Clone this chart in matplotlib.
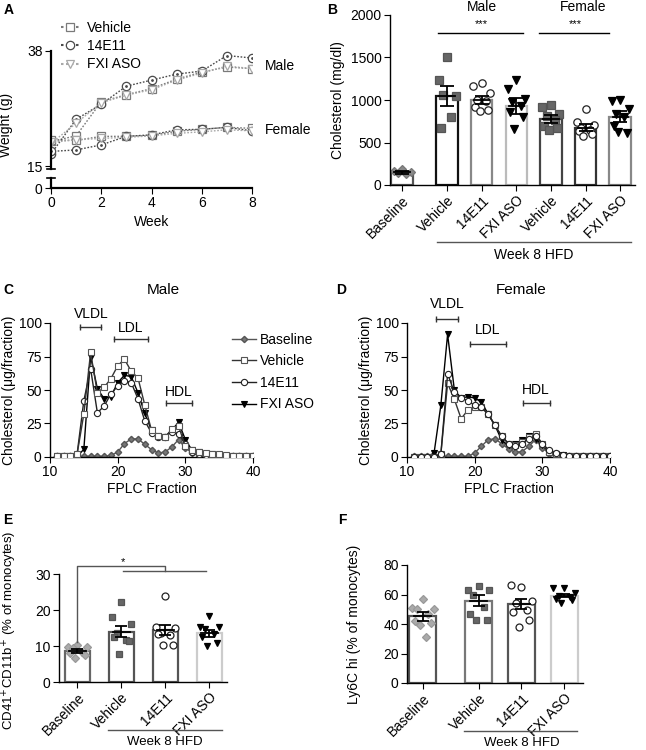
import numpy as np
import matplotlib
matplotlib.use("Agg")
import matplotlib.pyplot as plt
from matplotlib.lines import Line2D

plt.rcParams['font.family'] = ['Liberation Sans', 'DejaVu Sans']
plt.rcParams['font.size'] = 9
plt.rcParams['axes.linewidth'] = 1.0
plt.rcParams['xtick.major.size'] = 4
plt.rcParams['ytick.major.size'] = 4
plt.rcParams['xtick.major.pad'] = 2
plt.rcParams['ytick.major.pad'] = 2

# ---------------- data ----------------
# A: body weight (g)
weeks = np.arange(0, 9)
male_vehicle = [20.0, 21.1, 27.9, 29.3, 30.5, 32.4, 33.8, 34.8, 34.5]
male_14e11 = [17.5, 24.4, 27.4, 31.0, 32.2, 33.4, 34.0, 37.1, 36.6]
male_fxi = [19.6, 23.6, 27.7, 29.2, 30.3, 32.2, 33.6, 35.0, 34.5]
female_vehicle = [20.3, 20.2, 21.0, 21.0, 21.2, 22.0, 22.4, 22.8, 22.6]
female_14e11 = [18.0, 18.3, 19.3, 21.0, 21.3, 22.3, 22.4, 22.8, 22.1]
female_fxi = [19.8, 20.3, 20.6, 20.8, 21.1, 21.6, 21.9, 22.3, 22.1]

# B: plasma cholesterol (mg/dl)
chol_labels = ['Baseline', 'Vehicle', '14E11', 'FXI ASO', 'Vehicle', '14E11', 'FXI ASO']
chol_mean = [150, 1050, 1000, 930, 775, 675, 805]
chol_sem = [15, 120, 50, 95, 50, 38, 60]
chol_points = [
    [185, 165, 150, 140, 130],
    [1500, 1230, 1050, 1060, 800, 670],
    [1200, 1160, 1080, 1000, 990, 920, 880, 870],
    [1230, 1130, 1010, 980, 930, 860, 800, 660],
    [940, 920, 840, 810, 760, 700, 670, 650],
    [890, 740, 710, 670, 650, 630, 600, 580],
    [1000, 990, 900, 840, 800, 690, 610, 620],
]

# C / D: FPLC profiles (ug/fraction), fractions 11..40
fractions = np.arange(11, 41)
male_base = [0.5, 0.5, 0.5, 0.5, 0.5, 0.5, 0.5, 0.5, 1.2, 3.7, 10, 13.5, 13.5, 9.5, 5.5,
             3, 3.7, 7.5, 13, 7, 3, 1.2, 0.5, 0.5, 0.5, 0.5, 0.5, 0.5, 0.5, 0.5]
male_veh = [0.8, 0.8, 0.8, 2, 32, 78, 48, 52, 58.5, 68, 73, 64, 59, 39, 20,
            15.4, 15, 20.6, 23, 8, 5, 4, 3, 2.5, 2, 1.5, 1, 1, 0.8, 0.8]
male_ab = [0.5, 0.5, 0.5, 2, 42, 66, 33, 38, 47, 53, 57, 55.5, 43.5, 27, 18,
           15, 15, 19, 17.5, 10, 4, 2.5, 1.5, 1, 1, 0.8, 0.5, 0.5, 0.5, 0.5]
male_aso = [0.5, 0.5, 0.5, 0.5, 5.7, 75, 51, 43.5, 45, 55.5, 61, 60, 48, 32.5, 20,
            15.5, 15, 20, 26, 13, 5, 3.7, 2.5, 2, 1.5, 1, 0.8, 0.8, 0.8, 0.8]
female_base = [0.5, 0.5, 0.5, 0.5, 0.5, 0.5, 0.5, 0.5, 0.5, 3, 8, 13, 13.5, 10, 6,
               3.5, 4, 8, 13, 7, 2.5, 1, 0.5, 0.5, 0.5, 0.5, 0.5, 0.5, 0.5, 0.5]
female_veh = [0.3, 0.3, 0.3, 0.3, 2, 55, 43, 28.6, 35, 37, 37, 32, 23.6, 15.4, 10,
              8.7, 11, 15, 17, 10, 3.7, 2, 1, 0.5, 0.5, 0.5, 0.5, 0.5, 0.5, 0.5]
female_ab = [0.3, 0.3, 0.3, 0.3, 2, 62, 48.5, 44, 42, 38.5, 37, 32, 23.6, 15.4, 10,
             8, 10, 13.7, 15.4, 10, 5, 3, 1.5, 0.5, 0.5, 0.5, 0.5, 0.5, 0.5, 0.5]
female_aso = [0.3, 0.3, 0.3, 3, 38.5, 91.5, 50, 44, 45, 44, 41, 32, 23.6, 12.4, 8.7,
              10, 12.4, 15.4, 13.7, 8.7, 3.7, 2.5, 1.5, 1, 0.5, 0.5, 0.5, 0.5, 0.5, 0.5]

# E: CD41+CD11b+ (% of monocytes)
mono_labels = ['Baseline', 'Vehicle', '14E11', 'FXI ASO']
cd41_mean = [8.6, 14.0, 14.4, 13.5]
cd41_sem = [0.5, 1.6, 1.4, 1.0]
cd41_points = [
    [10.2, 9.6, 9.8, 9.5, 8.4, 8.0, 7.6, 6.8],
    [22.2, 18.0, 16.2, 13.5, 11.8, 12.5, 11.3, 7.8],
    [24.0, 15.2, 15.0, 13.6, 13.1, 13.4, 10.3, 10.3],
    [18.4, 15.4, 15.4, 14.8, 13.4, 12.6, 10.8, 9.9],
]

# F: Ly6C hi (% of monocytes)
ly6c_mean = [45.1, 55.8, 53.5, 59.2]
ly6c_sem = [3.0, 3.7, 3.4, 1.1]
ly6c_points = [
    [57, 51, 50, 50, 47, 42, 41, 39, 31],
    [65.5, 63, 63, 59.5, 51.5, 47, 43, 43],
    [64.8, 66.4, 55.8, 54.4, 49.4, 48.3, 42.6, 38.1],
    [64.5, 64.5, 61, 59, 58, 57, 56, 54],
]

# ---------------- layout helpers ----------------
W, H = 646, 750
fig = plt.figure(figsize=(W / 100, H / 100), dpi=100)


def px_axes(left, top, right, bottom):
    return fig.add_axes([left / W, 1 - bottom / H, (right - left) / W, (bottom - top) / H])


def clean(ax):
    ax.spines['top'].set_visible(False)
    ax.spines['right'].set_visible(False)


def letter(x, y, s):
    fig.text(x / W, 1 - y / H, s, fontsize=10, fontweight='bold', va='top', ha='left')


def offsets(n, w):
    pattern = [0, -1, 1, -0.5, 0.5, -0.75, 0.75, -0.25, 0.25]
    return np.array([pattern[i % len(pattern)] * w for i in range(n)])


grp_style = {
    'base': dict(marker='D', mfc='#888888', mec='#777777'),
    'veh': dict(marker='s', mfc='#666666', mec='#555555'),
    'ab': dict(marker='o', mfc='white', mec='#222222'),
    'aso': dict(marker='v', mfc='black', mec='black'),
}


def bar_panel(ax, pos, means, sems, pts, edges, styles, ms, width, capsize, wide):
    for p, m, s, y, ec, st in zip(pos, means, sems, pts, edges, styles):
        ax.bar(p, m, width=width, facecolor='white', edgecolor=ec, linewidth=1.6, zorder=1)
        size = ms * 0.85 if st['marker'] == 'D' else ms
        ax.plot(p + offsets(len(y), width * 0.4), y, linestyle='none', ms=size,
                zorder=2, mew=0.9, **st)
        ax.errorbar(p, m, yerr=s, color='black', capsize=capsize, capthick=1.3,
                    elinewidth=1.3, zorder=3)
        ax.plot([p - wide, p + wide], [m, m], color='black', lw=1.3, zorder=3)


# ---------------- A ----------------
axa = px_axes(51, 51, 252, 169)
axa0 = px_axes(51, 178, 252, 188)
a_series = [
    (male_vehicle, female_vehicle, 's', '#7a7a7a', 'Vehicle'),
    (male_14e11, female_14e11, 'o', '#4a4a4a', '14E11'),
    (male_fxi, female_fxi, 'v', '#a8a8a8', 'FXI ASO'),
]
handles = []
for m, f, mk, col, lab in a_series:
    for y in (m, f):
        axa.plot(weeks, y, linestyle=(0, (1.2, 1.2)), color=col, lw=1.0, marker=mk,
                 ms=6, mfc='white', mec=col, mew=0.9)
        if mk == 'o':
            axa.plot(weeks, y, linestyle='none', marker='.', ms=2, color=col)
    handles.append(Line2D([], [], linestyle=(0, (1.2, 1.2)), color=col, marker=mk, ms=6,
                          mfc='white', mec=col, mew=0.9, label=lab))
axa.set_xlim(0, 8)
axa.set_ylim(14.5, 38)
axa.set_yticks([15, 38])
axa.set_xticks([])
axa.tick_params(labelsize=10)
clean(axa)
axa.spines['bottom'].set_visible(False)
axa.spines['left'].set_linewidth(1.6)
axa.plot([-0.02, 0.02], [0, 0], transform=axa.transAxes, color='black', lw=1.2, clip_on=False)
axa.set_ylabel('Weight (g)', fontsize=10)
axa.yaxis.set_label_coords(-0.19, 0.37)
axa.legend(handles=handles, loc='upper left', bbox_to_anchor=(0.02, 1.3), frameon=False,
           handlelength=1.4, handletextpad=0.5, labelspacing=0.3, fontsize=10,
           borderaxespad=0)
axa.text(1.065, 0.874, 'Male', transform=axa.transAxes, fontsize=10, va='center')
axa.text(1.065, 0.33, 'Female', transform=axa.transAxes, fontsize=10, va='center')

axa0.set_xlim(0, 8)
axa0.set_ylim(0, 2.0)
axa0.set_yticks([0])
axa0.set_xticks([0, 2, 4, 6, 8])
axa0.tick_params(labelsize=10)
clean(axa0)
axa0.spines['left'].set_linewidth(1.6)
axa0.spines['bottom'].set_linewidth(1.6)
axa0.plot([-0.02, 0.02], [1, 1], transform=axa0.transAxes, color='black', lw=1.2, clip_on=False)
axa0.set_xlabel('Week', fontsize=10, labelpad=3)
letter(4, 3, 'A')

# ---------------- B ----------------
axb = px_axes(390, 15, 635, 185)
b_pos = np.array([0, 1.3, 2.3, 3.3, 4.3, 5.3, 6.3])
b_edges = ['#555555', '#111111', '#888888', '#bbbbbb', '#444444', '#333333', '#888888']
b_styles = [grp_style['base'], grp_style['veh'], grp_style['ab'], grp_style['aso'],
            grp_style['veh'], grp_style['ab'], grp_style['aso']]
bar_panel(axb, b_pos, chol_mean, chol_sem, chol_points, b_edges, b_styles,
          ms=5.3, width=0.62, capsize=5, wide=0.22)
axb.set_xlim(-0.35, 6.73)
axb.set_ylim(0, 2000)
axb.set_yticks([0, 500, 1000, 1500, 2000])
axb.set_xticks(b_pos)
axb.set_xticklabels(chol_labels, rotation=45, ha='right', rotation_mode='anchor', fontsize=10)
axb.tick_params(axis='y', labelsize=10)
clean(axb)
axb.set_ylabel('Cholesterol (mg/dl)', fontsize=10)
axb.plot([1.04, 3.5], [1792, 1792], color='black', lw=1.0)
axb.plot([3.95, 5.98], [1792, 1792], color='black', lw=1.0)
axb.text(2.3, 1830, '***', ha='center', va='bottom', fontsize=8)
axb.text(5.0, 1830, '***', ha='center', va='bottom', fontsize=8)
axb.text(2.3, 2090, 'Male', ha='center', va='center', fontsize=10)
axb.text(5.23, 2090, 'Female', ha='center', va='center', fontsize=10)
tb = axb.get_xaxis_transform()
axb.plot([1.0, 6.6], [-0.335, -0.335], transform=tb, color='#555555', lw=1.0, clip_on=False)
axb.text(3.8, -0.41, 'Week 8 HFD', transform=tb, ha='center', va='center', fontsize=10)
letter(327, 3, 'B')

# ---------------- C / D ----------------
def fplc_panel(ax, base, veh, ab, aso, title, order):
    kw = dict(lw=1.0, ms=4.5, mew=0.8)
    z = dict(zip(['base', 'aso', 'ab', 'veh'], order))
    ax.plot(fractions, base, color='#555555', marker='D', mfc='#777777', mec='#555555',
            ms=3.2, lw=1.0, zorder=z['base'], label='Baseline')
    ax.plot(fractions, veh, color='#333333', marker='s', mfc='white', mec='#555555',
            zorder=z['veh'], label='Vehicle', **kw)
    ax.plot(fractions, ab, color='#222222', marker='o', mfc='white', mec='#222222',
            zorder=z['ab'], label='14E11', **kw)
    ax.plot(fractions, aso, color='black', marker='v', mfc='black', mec='black',
            zorder=z['aso'], label='FXI ASO', **kw)
    ax.set_xlim(10, 40)
    ax.set_ylim(0, 100)
    ax.set_xticks([10, 20, 30, 40])
    ax.set_yticks([0, 25, 50, 75, 100])
    ax.tick_params(labelsize=10)
    clean(ax)
    ax.set_xlabel('FPLC Fraction', fontsize=10, labelpad=2)
    ax.set_ylabel('Cholesterol (\u03bcg/fraction)', fontsize=10, labelpad=2)
    ax.text(0.56, 1.244, title, transform=ax.transAxes, ha='center', va='center', fontsize=11)


def bracket(ax, x0, x1, y, ty, s):
    ax.plot([x0, x1], [y, y], color='#333333', lw=1.0, clip_on=False)
    ax.plot([x0, x1], [y, y], linestyle='none', marker='|', ms=5, color='#333333',
            mew=1.0, clip_on=False)
    ax.text((x0 + x1) / 2, ty, s, ha='center', va='center', fontsize=10)


axc = px_axes(50, 323, 253, 457)
fplc_panel(axc, male_base, male_veh, male_ab, male_aso, 'Male', [2, 3, 4, 5])
bracket(axc, 14.5, 17.6, 97, 107, 'VLDL')
bracket(axc, 19.4, 24.5, 88, 96, 'LDL')
bracket(axc, 27.1, 31.0, 40, 48.5, 'HDL')
axc.legend(loc='upper left', bbox_to_anchor=(0.87, 0.97), frameon=False, fontsize=10,
           handlelength=1.7, handletextpad=0.3, labelspacing=0.55, borderaxespad=0)
letter(3, 283, 'C')

axd = px_axes(407, 323, 610, 457)
fplc_panel(axd, female_base, female_veh, female_ab, female_aso, 'Female', [2, 3, 5, 4])
bracket(axd, 14.3, 17.5, 103, 114, 'VLDL')
bracket(axd, 19.3, 24.6, 84.6, 94.5, 'LDL')
bracket(axd, 27.1, 31.1, 40, 50, 'HDL')
letter(336, 283, 'D')

# ---------------- E ----------------
axe = px_axes(59, 574, 227, 682)
e_pos = np.array([0, 1, 2, 3])
e_edges = ['#666666', '#555555', '#555555', '#cccccc']
base_light = dict(marker='D', mfc='#aaaaaa', mec='#999999')
e_styles = [base_light, grp_style['veh'], grp_style['ab'], grp_style['aso']]
bar_panel(axe, e_pos, cd41_mean, cd41_sem, cd41_points, e_edges, e_styles,
          ms=5.0, width=0.55, capsize=4.5, wide=0.2)
axe.set_xlim(-0.42, 3.4)
axe.set_ylim(0, 30)
axe.set_yticks([0, 10, 20, 30])
axe.set_xticks(e_pos)
axe.set_xticklabels(mono_labels, rotation=45, ha='right', rotation_mode='anchor', fontsize=10)
axe.tick_params(axis='y', labelsize=10)
clean(axe)
axe.set_ylabel('CD41$^{+}$CD11b$^{+}$ (% of monocytes)', fontsize=9.5)
axe.yaxis.set_label_coords(-0.24, 0.48)
axe.plot([0, 0, 2.0, 2.0], [11, 32.2, 32.2, 30.9], color='#555555', lw=1.0, clip_on=False)
axe.plot([1.03, 2.93], [30.9, 30.9], color='#555555', lw=1.0, clip_on=False)
axe.text(1.03, 33.2, '*', ha='center', va='center', fontsize=8)
te = axe.get_xaxis_transform()
axe.plot([0.69, 3.28], [-0.44, -0.44], transform=te, color='#555555', lw=1.0, clip_on=False)
axe.text(1.98, -0.56, 'Week 8 HFD', transform=te, ha='center', va='center', fontsize=9.5)
letter(3, 513, 'E')

# ---------------- F ----------------
axf = px_axes(407, 565, 583, 683)
f_pos = np.array([0, 1.3, 2.3, 3.3])
f_edges = ['#555555', '#777777', '#555555', '#cccccc']
bar_panel(axf, f_pos, ly6c_mean, ly6c_sem, ly6c_points, f_edges, e_styles,
          ms=5.0, width=0.63, capsize=4.5, wide=0.2)
axf.set_xlim(-0.37, 3.74)
axf.set_ylim(0, 80)
axf.set_yticks([0, 20, 40, 60, 80])
axf.set_xticks(f_pos)
axf.set_xticklabels(mono_labels, rotation=45, ha='right', rotation_mode='anchor', fontsize=10)
axf.tick_params(axis='y', labelsize=10)
clean(axf)
axf.set_ylabel('Ly6C hi (% of monocytes)', fontsize=10)
axf.yaxis.set_label_coords(-0.26, 0.5)
tf = axf.get_xaxis_transform()
axf.plot([0.97, 3.6], [-0.41, -0.41], transform=tf, color='#555555', lw=1.0, clip_on=False)
axf.text(2.3, -0.51, 'Week 8 HFD', transform=tf, ha='center', va='center', fontsize=9.5)
letter(338, 513, 'F')

fig.savefig('out.png', dpi=100)
